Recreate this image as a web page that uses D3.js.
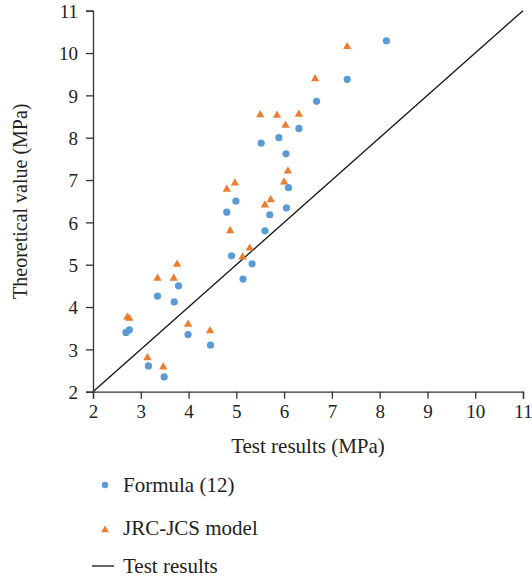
<!DOCTYPE html>
<html><head><meta charset="utf-8">
<script src="https://cdn.jsdelivr.net/npm/d3@7"></script>
<style>
body{margin:0;background:#fff;}
svg{display:block;font-family:"Liberation Serif","DejaVu Serif",serif;}
</style></head>
<body><svg id="c" width="532" height="581"></svg>
<script>
const xTicks = [2,3,4,5,6,7,8,9,10,11];
const yTicks = [2,3,4,5,6,7,8,9,10,11];
const formulaX = [2.69,2.76,3.16,3.49,3.35,3.70,3.79,3.99,4.46,4.80,4.99,4.90,5.14,5.33,5.60,5.70,6.05,6.09,5.52,5.89,6.04,6.31,6.68,7.32,8.14];
const formulaY = [3.40,3.46,2.61,2.35,4.26,4.12,4.50,3.35,3.10,6.24,6.50,5.21,4.66,5.02,5.80,6.18,6.34,6.82,7.87,8.00,7.62,8.22,8.86,9.38,10.29];
const jrcX = [2.72,2.76,3.14,3.47,3.35,3.69,3.76,3.99,4.45,4.80,4.97,4.87,5.13,5.28,5.60,5.72,6.00,5.50,5.85,6.31,6.03,6.08,6.65,7.32];
const jrcY = [3.76,3.73,2.80,2.58,4.68,4.68,5.01,3.59,3.44,6.78,6.93,5.80,5.18,5.39,6.41,6.53,6.95,8.54,8.53,8.55,8.29,7.21,9.39,10.15];
const testLine = [[2,2],[11,11]];
const legendLabels = ["Formula (12)","JRC-JCS model","Test results"];

const svg = d3.select("#c");
const x = d3.scaleLinear().domain([2,11]).range([93,523]);
const y = d3.scaleLinear().domain([2,11]).range([391.7,10.7]);
const axisColor = "#333";

// diagonal line
svg.append("path")
  .attr("d", d3.line().x(d=>x(d[0])).y(d=>y(d[1]))(testLine))
  .attr("stroke","#111").attr("stroke-width",1.3).attr("fill","none");

// axes
const gx = svg.append("g").attr("transform",`translate(0,${y(2)})`)
  .call(d3.axisBottom(x).tickValues(xTicks).tickSize(7).tickPadding(6).tickFormat(d3.format("d")));
const gy = svg.append("g").attr("transform",`translate(${x(2)},0)`)
  .call(d3.axisLeft(y).tickValues(yTicks).tickSize(7).tickPadding(8).tickFormat(d3.format("d")));
[gx,gy].forEach(g=>{
  g.select(".domain").attr("stroke",axisColor).attr("stroke-width",1.3);
  g.selectAll(".tick line").attr("stroke",axisColor).attr("stroke-width",1.3);
  g.selectAll(".tick text").attr("fill","#222").attr("font-size",19).attr("font-family","Liberation Serif, serif");
});
gy.selectAll(".tick text").attr("dy","0.35em");

// points
const formula = formulaX.map((v,i)=>[v,formulaY[i]]);
const jrc = jrcX.map((v,i)=>[v,jrcY[i]]);
const tri = d3.symbol().type(d3.symbolTriangle).size(30);
svg.append("g").selectAll("path").data(jrc).join("path")
  .attr("d",tri).attr("transform",d=>`translate(${x(d[0])},${y(d[1])})`)
  .attr("fill","#ED7D31");
svg.append("g").selectAll("circle").data(formula).join("circle")
  .attr("cx",d=>x(d[0])).attr("cy",d=>y(d[1])).attr("r",3.6)
  .attr("fill","#5B9BD5");

// axis titles
svg.append("text").attr("x",308).attr("y",453).attr("text-anchor","middle")
  .attr("font-size",21).attr("fill","#222").text("Test results (MPa)");
svg.append("text").attr("transform",`translate(27,${(y(2)+y(11))/2}) rotate(-90)`)
  .attr("text-anchor","middle").attr("font-size",20).attr("fill","#222").text("Theoretical value (MPa)");

// legend
const lg = svg.append("g");
lg.append("circle").attr("cx",105).attr("cy",485).attr("r",3.2).attr("fill","#5B9BD5");
lg.append("path").attr("d",d3.symbol().type(d3.symbolTriangle).size(26)).attr("transform","translate(105,530)").attr("fill","#ED7D31");
lg.append("line").attr("x1",92).attr("x2",114).attr("y1",566).attr("y2",566).attr("stroke","#111").attr("stroke-width",1.3);
const ly = [492,535,573];
legendLabels.forEach((t,i)=>{
  lg.append("text").attr("x",123).attr("y",ly[i]).attr("font-size",21).attr("fill","#222").text(t);
});
</script></body></html>
